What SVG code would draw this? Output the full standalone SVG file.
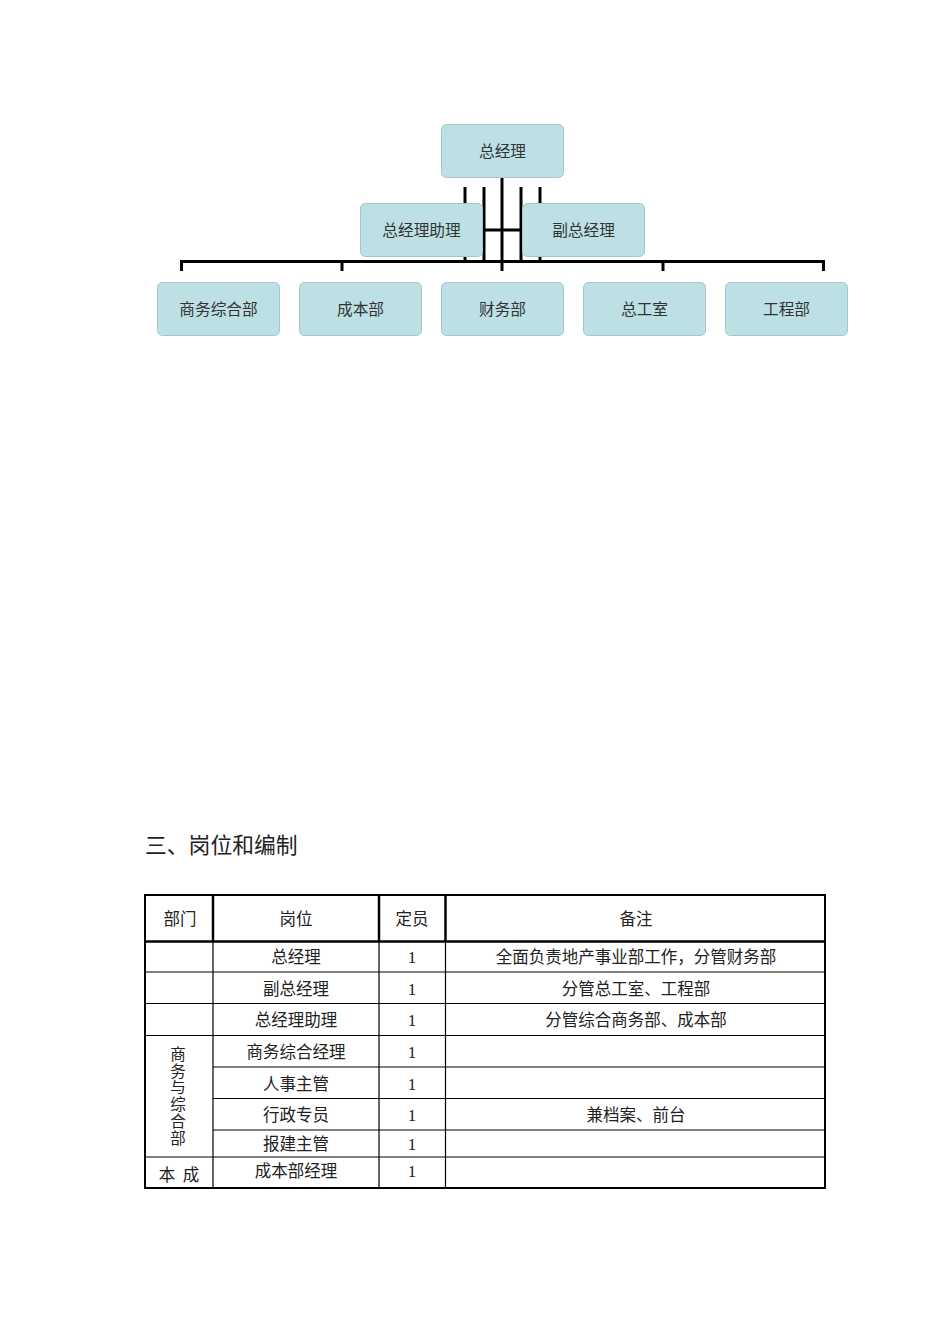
<svg xmlns="http://www.w3.org/2000/svg" width="950" height="1344" viewBox="0 0 950 1344">
<style>
.box{fill:#bce0e3;stroke:#9fc7cc;stroke-width:1}
.bt{font-family:"Liberation Sans","Noto Sans CJK SC",sans-serif;font-size:15.7px;fill:#333;text-anchor:middle;dominant-baseline:central}
.con line{stroke:#000;stroke-width:3;fill:none}
.tt{font-family:"Liberation Serif","Noto Sans CJK SC",serif;font-size:16.5px;fill:#222;text-anchor:middle;dominant-baseline:central}
.tv{font-size:15.5px}
.num{font-size:17px}
.tl{stroke:#000;stroke-width:1.2}
.th{stroke:#000;stroke-width:2.5}
</style>
<rect width="950" height="1344" fill="#fff"/>
<g id="connectors" class="con">
<line x1="502" y1="177" x2="502" y2="271"/>
<line x1="465" y1="187" x2="465" y2="262"/>
<line x1="540" y1="187" x2="540" y2="262"/>
<line x1="484" y1="187" x2="484" y2="262"/>
<line x1="521" y1="187" x2="521" y2="262"/>
<line x1="484" y1="230" x2="521" y2="230"/>
<line x1="180" y1="261.5" x2="825" y2="261.5"/>
<line x1="181.5" y1="260" x2="181.5" y2="271"/>
<line x1="342" y1="260" x2="342" y2="271"/>
<line x1="663" y1="260" x2="663" y2="271"/>
<line x1="823.5" y1="260" x2="823.5" y2="271"/>
</g>
<g id="n-zjl"><rect class="box" x="441.5" y="124.5" width="122" height="53" rx="5"/><text class="bt" x="502.5" y="151">总经理</text></g>
<g id="n-zjlzl"><rect class="box" x="360.5" y="203.5" width="122" height="53" rx="5"/><text class="bt" x="421.5" y="230">总经理助理</text></g>
<g id="n-fzjl"><rect class="box" x="522.5" y="203.5" width="122" height="53" rx="5"/><text class="bt" x="583.5" y="230">副总经理</text></g>
<g id="n-swzhb"><rect class="box" x="157.5" y="282.5" width="122" height="53" rx="5"/><text class="bt" x="218.5" y="309">商务综合部</text></g>
<g id="n-cbb"><rect class="box" x="299.5" y="282.5" width="122" height="53" rx="5"/><text class="bt" x="360.5" y="309">成本部</text></g>
<g id="n-cwb"><rect class="box" x="441.5" y="282.5" width="122" height="53" rx="5"/><text class="bt" x="502.5" y="309">财务部</text></g>
<g id="n-zgs"><rect class="box" x="583.5" y="282.5" width="122" height="53" rx="5"/><text class="bt" x="644.5" y="309">总工室</text></g>
<g id="n-gcb"><rect class="box" x="725.5" y="282.5" width="122" height="53" rx="5"/><text class="bt" x="786.5" y="309">工程部</text></g>

<text x="145" y="853" font-family="Liberation Serif,'Noto Sans CJK SC',serif" font-size="21.8" fill="#222">三、岗位和编制</text>

<g id="table">
<rect x="145" y="895" width="680" height="293" fill="none" stroke="#000" stroke-width="2"/>
<line class="th" x1="145" y1="941.5" x2="825" y2="941.5"/>
<line class="tl" x1="145" y1="972" x2="825" y2="972"/>
<line class="tl" x1="145" y1="1003.5" x2="825" y2="1003.5"/>
<line class="tl" x1="145" y1="1035.5" x2="825" y2="1035.5"/>
<line class="tl" x1="213" y1="1067" x2="825" y2="1067"/>
<line class="tl" x1="213" y1="1098.5" x2="825" y2="1098.5"/>
<line class="tl" x1="213" y1="1130" x2="825" y2="1130"/>
<line class="tl" x1="145" y1="1157" x2="825" y2="1157"/>
<line class="th" x1="213" y1="895" x2="213" y2="941"/>
<line class="th" x1="379" y1="895" x2="379" y2="941"/>
<line class="th" x1="445.5" y1="895" x2="445.5" y2="941"/>
<line class="tl" x1="213" y1="941" x2="213" y2="1188"/>
<line class="tl" x1="379" y1="941" x2="379" y2="1188"/>
<line class="tl" x1="445.5" y1="941" x2="445.5" y2="1188"/>
<text class="tt" x="180" y="919">部门</text>
<text class="tt" x="296" y="919">岗位</text>
<text class="tt" x="412" y="919">定员</text>
<text class="tt" x="636" y="919">备注</text>
<text class="tt" x="296" y="957.5">总经理</text>
<text class="tt num" x="412" y="957.5">1</text>
<text class="tt" x="636" y="957.5">全面负责地产事业部工作，分管财务部</text>
<text class="tt" x="296" y="989">副总经理</text>
<text class="tt num" x="412" y="989">1</text>
<text class="tt" x="636" y="989">分管总工室、工程部</text>
<text class="tt" x="296" y="1020.5">总经理助理</text>
<text class="tt num" x="412" y="1020.5">1</text>
<text class="tt" x="636" y="1020.5">分管综合商务部、成本部</text>
<text class="tt" x="296" y="1052.5">商务综合经理</text>
<text class="tt num" x="412" y="1052.5">1</text>
<text class="tt" x="296" y="1084">人事主管</text>
<text class="tt num" x="412" y="1084">1</text>
<text class="tt" x="296" y="1115.5">行政专员</text>
<text class="tt num" x="412" y="1115.5">1</text>
<text class="tt" x="636" y="1115.5">兼档案、前台</text>
<text class="tt" x="296" y="1144.5">报建主管</text>
<text class="tt num" x="412" y="1144.5">1</text>
<text class="tt" x="296" y="1171">成本部经理</text>
<text class="tt num" x="412" y="1171">1</text>
<text class="tt tv" x="178" y="1054">商</text>
<text class="tt tv" x="178" y="1071">务</text>
<text class="tt tv" x="178" y="1087.5">与</text>
<text class="tt tv" x="178" y="1104">综</text>
<text class="tt tv" x="178" y="1121">合</text>
<text class="tt tv" x="178" y="1138">部</text>
<text class="tt" x="167" y="1175">本</text>
<text class="tt" x="191" y="1175">成</text>
</g>
</svg>
